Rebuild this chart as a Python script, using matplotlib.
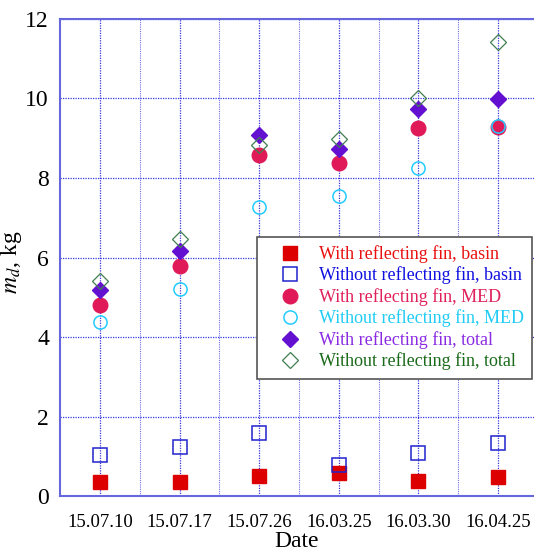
import matplotlib
matplotlib.use('Agg')
import matplotlib.pyplot as plt
import numpy as np

plt.rcParams['font.family'] = ['Liberation Serif', 'DejaVu Serif']
plt.rcParams['mathtext.fontset'] = 'stix'

# 数据
dates = ['15.07.10', '15.07.17', '15.07.26', '16.03.25', '16.03.30', '16.04.25']
fin_basin = [0.36, 0.36, 0.51, 0.59, 0.39, 0.49]
nofin_basin = [1.03, 1.24, 1.59, 0.78, 1.07, 1.33]
fin_med = [4.80, 5.79, 8.58, 8.37, 9.27, 9.29]
nofin_med = [4.38, 5.22, 7.28, 7.55, 8.26, 9.32]
fin_total = [5.18, 6.16, 9.09, 8.74, 9.74, 9.99]
nofin_total = [5.40, 6.46, 8.84, 8.99, 10.00, 11.43]

labels = ['With reflecting fin, basin', 'Without reflecting fin, basin',
          'With reflecting fin, MED', 'Without reflecting fin, MED',
          'With reflecting fin, total', 'Without reflecting fin, total']
text_colors = ['#e81010', '#1010e0', '#e0205a', '#20ccf5', '#8a2be2', '#1a6a1a']

x = np.arange(1, len(dates) + 1)

fig = plt.figure(figsize=(5.34, 5.52), dpi=100)
ax = fig.add_axes([0.1124, 0.1014, 0.8876, 0.8642])

ax.plot(x, fin_basin, 's', ms=10, color='#dd0000', mec='#dd0000', zorder=3, label=labels[0])
ax.plot(x, nofin_basin, 's', ms=10, mfc='none', mec='#2222cc', mew=1.1, zorder=3, label=labels[1])
ax.plot(x, fin_med, 'o', ms=10.5, color='#e01a58', zorder=3, label=labels[2])
ax.plot(x, nofin_med, 'o', ms=9.5, mfc='none', mec='#22ccff', mew=1.1, zorder=3, label=labels[3])
ax.plot(x, fin_total, 'D', ms=8, color='#6410d0', zorder=4, label=labels[4])
ax.plot(x, nofin_total, 'D', ms=8, mfc='none', mec='#3f7f4f', mew=0.9, zorder=4, label=labels[5])

ax.set_xlim(0.5, 6.45)
ax.set_ylim(0, 12)
ax.set_xticks(x)
ax.set_xticklabels(dates, fontsize=13.5)
ax.set_xticks(x[:-1] + 0.5, minor=True)
ax.set_yticks([0, 2, 4, 6, 8, 10, 12])
ax.tick_params(axis='y', labelsize=17, direction='in', colors='#3333dd', labelcolor='black', length=0, pad=8)
ax.tick_params(axis='x', which='both', direction='in', colors='#3333dd', labelcolor='black', length=0, pad=13)

ax.grid(True, which='major', color='#2222dd', linestyle=(0, (1, 1)), linewidth=0.9, alpha=0.9)
ax.grid(True, which='minor', color='#3333dd', linestyle=(0, (1, 1)), linewidth=0.8, alpha=0.7)
ax.set_axisbelow(True)

for s in ['left', 'bottom', 'top']:
    ax.spines[s].set_color('#6666dd')
    ax.spines[s].set_linewidth(1.5)
ax.spines['right'].set_visible(False)

ax.set_xlabel('Date', fontsize=17, labelpad=0)
ax.set_ylabel('$m_d$, kg', fontsize=17)
ax.yaxis.set_label_coords(-0.075, 0.49)

leg = ax.legend(loc='upper left', bbox_to_anchor=(0.4156, 0.543), fontsize=13,
                frameon=True, fancybox=False, edgecolor='#555555', framealpha=1,
                handletextpad=0.3, handlelength=2.7, borderpad=0.45, labelspacing=0.2,
                borderaxespad=0)
leg.get_frame().set_linewidth(1.2)
for t, c in zip(leg.get_texts(), text_colors):
    t.set_color(c)

plt.savefig('out.png', dpi=100)
